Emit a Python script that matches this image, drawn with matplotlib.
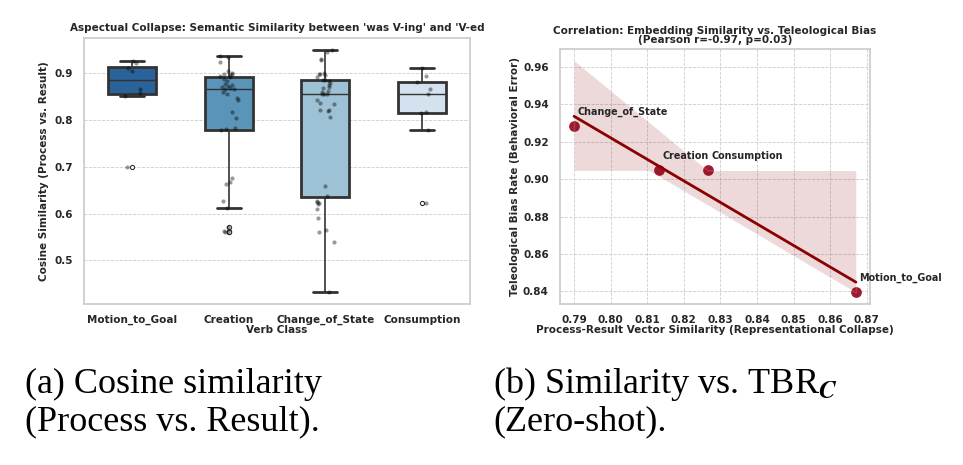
import numpy as np
import pandas as pd
import matplotlib
matplotlib.use("Agg")
import matplotlib.pyplot as plt
import seaborn as sns

# data
classes = ["Motion_to_Goal", "Creation", "Change_of_State", "Consumption"]
motion_sim = [0.926, 0.923, 0.912, 0.906, 0.866, 0.858, 0.851, 0.699]
creation_sim = [0.938, 0.935, 0.925, 0.905, 0.901, 0.899, 0.898, 0.897, 0.895, 0.893,
                0.888, 0.884, 0.878, 0.875, 0.873, 0.870, 0.868, 0.867, 0.866,
                0.860, 0.855, 0.848, 0.843, 0.817, 0.805, 0.783, 0.780, 0.779,
                0.675, 0.668, 0.664, 0.627, 0.612, 0.572, 0.563, 0.561, 0.560]
change_sim = [0.950, 0.945, 0.932, 0.929, 0.901, 0.899, 0.898, 0.897, 0.893, 0.887,
              0.885, 0.883, 0.880, 0.875, 0.870, 0.868, 0.862, 0.860, 0.857, 0.857,
              0.857, 0.843, 0.836, 0.834, 0.822, 0.821, 0.820, 0.806, 0.659, 0.638,
              0.627, 0.625, 0.622, 0.620, 0.610, 0.590, 0.565, 0.560, 0.540, 0.432]
consumption_sim = [0.911, 0.895, 0.881, 0.866, 0.856, 0.817, 0.815, 0.779, 0.623]

# correlation panel
corr_names = ["Change_of_State", "Creation", "Consumption", "Motion_to_Goal"]
vec_sim = [0.790, 0.8132, 0.8265, 0.8670]
bias_rate = [0.9284, 0.9047, 0.9047, 0.8395]

sns.set_theme(style="whitegrid")
plt.rcParams["font.family"] = ["DejaVu Sans"]
plt.rcParams["font.weight"] = "bold"
plt.rcParams["axes.labelweight"] = "bold"
plt.rcParams["axes.titleweight"] = "bold"
plt.rcParams["mathtext.fontset"] = "stix"

fig = plt.figure(figsize=(9.63, 4.65), dpi=100)
fs = 7.5
grid_kw = dict(linestyle="--", linewidth=0.6, color="#cccccc")

# ---- (a) box plot ----
df = pd.DataFrame({
    "Verb Class": [classes[0]] * len(motion_sim) + [classes[1]] * len(creation_sim)
    + [classes[2]] * len(change_sim) + [classes[3]] * len(consumption_sim),
    "sim": motion_sim + creation_sim + change_sim + consumption_sim,
})
ax1 = fig.add_axes([0.0872, 0.3462, 0.4008, 0.5720])
sns.boxplot(data=df, x="Verb Class", y="sim", hue="Verb Class", palette="Blues_r",
            legend=False, width=0.5, ax=ax1, order=classes,
            boxprops=dict(linewidth=2, edgecolor="#333333"),
            whiskerprops=dict(linewidth=1.2, color="#333333"),
            capprops=dict(linewidth=2, color="#333333"),
            medianprops=dict(linewidth=1, color="#333333"),
            flierprops=dict(marker="o", markersize=3, markerfacecolor="white",
                            markeredgecolor="#333333", markeredgewidth=0.8))
np.random.seed(3)
sns.stripplot(data=df, x="Verb Class", y="sim", order=classes, color="black",
              alpha=0.4, size=3, jitter=0.1, ax=ax1)
ax1.set_title("Aspectual Collapse: Semantic Similarity between 'was V-ing' and 'V-ed",
              fontsize=fs, pad=5)
ax1.set_xlabel("Verb Class", fontsize=fs, labelpad=0)
ax1.set_ylabel("Cosine Similarity (Process vs. Result)", fontsize=fs)
ax1.tick_params(labelsize=fs, pad=2)
ax1.set_yticks([0.5, 0.6, 0.7, 0.8, 0.9])
ax1.grid(axis="y", **grid_kw)
ax1.grid(axis="x", visible=False)

# ---- (b) correlation ----
ax2 = fig.add_axes([0.5815, 0.3462, 0.3219, 0.5484])
sns.regplot(x=np.array(vec_sim), y=np.array(bias_rate), ax=ax2, seed=0,
            color="darkred", scatter_kws=dict(s=45, color="#9e1b32", alpha=1),
            line_kws=dict(linewidth=2))
for name, xv, yv in zip(corr_names, vec_sim, bias_rate):
    ax2.text(xv + 0.001, yv + 0.005, name, fontsize=6.9, fontweight="bold",
             color="#262626", va="bottom")
ax2.set_title("Correlation: Embedding Similarity vs. Teleological Bias\n(Pearson r=-0.97, p=0.03)",
              fontsize=fs, pad=4, linespacing=0.95)
ax2.set_xlabel("Process-Result Vector Similarity (Representational Collapse)",
               fontsize=fs, labelpad=0)
ax2.set_ylabel("Teleological Bias Rate (Behavioral Error)", fontsize=fs, labelpad=2)
ax2.set_xticks([0.79, 0.80, 0.81, 0.82, 0.83, 0.84, 0.85, 0.86, 0.87])
ax2.set_yticks([0.84, 0.86, 0.88, 0.90, 0.92, 0.94, 0.96])
ax2.tick_params(labelsize=fs, pad=2)
ax2.grid(True, **grid_kw)

# captions
cap = dict(fontsize=26, family="Liberation Serif", fontweight="normal",
           color="black", va="center", ha="left")
fig.text(25 / 963, 1 - 384 / 465, "(a) Cosine similarity", **cap)
fig.text(25 / 963, 1 - 422 / 465, "(Process vs. Result).", **cap)
fig.text(493 / 963, 1 - 384 / 465, "(b) Similarity vs. TBR$_{\\mathit{C}}$", **cap)
fig.text(493 / 963, 1 - 422 / 465, "(Zero-shot).", **cap)

fig.savefig("out.png", dpi=100)
